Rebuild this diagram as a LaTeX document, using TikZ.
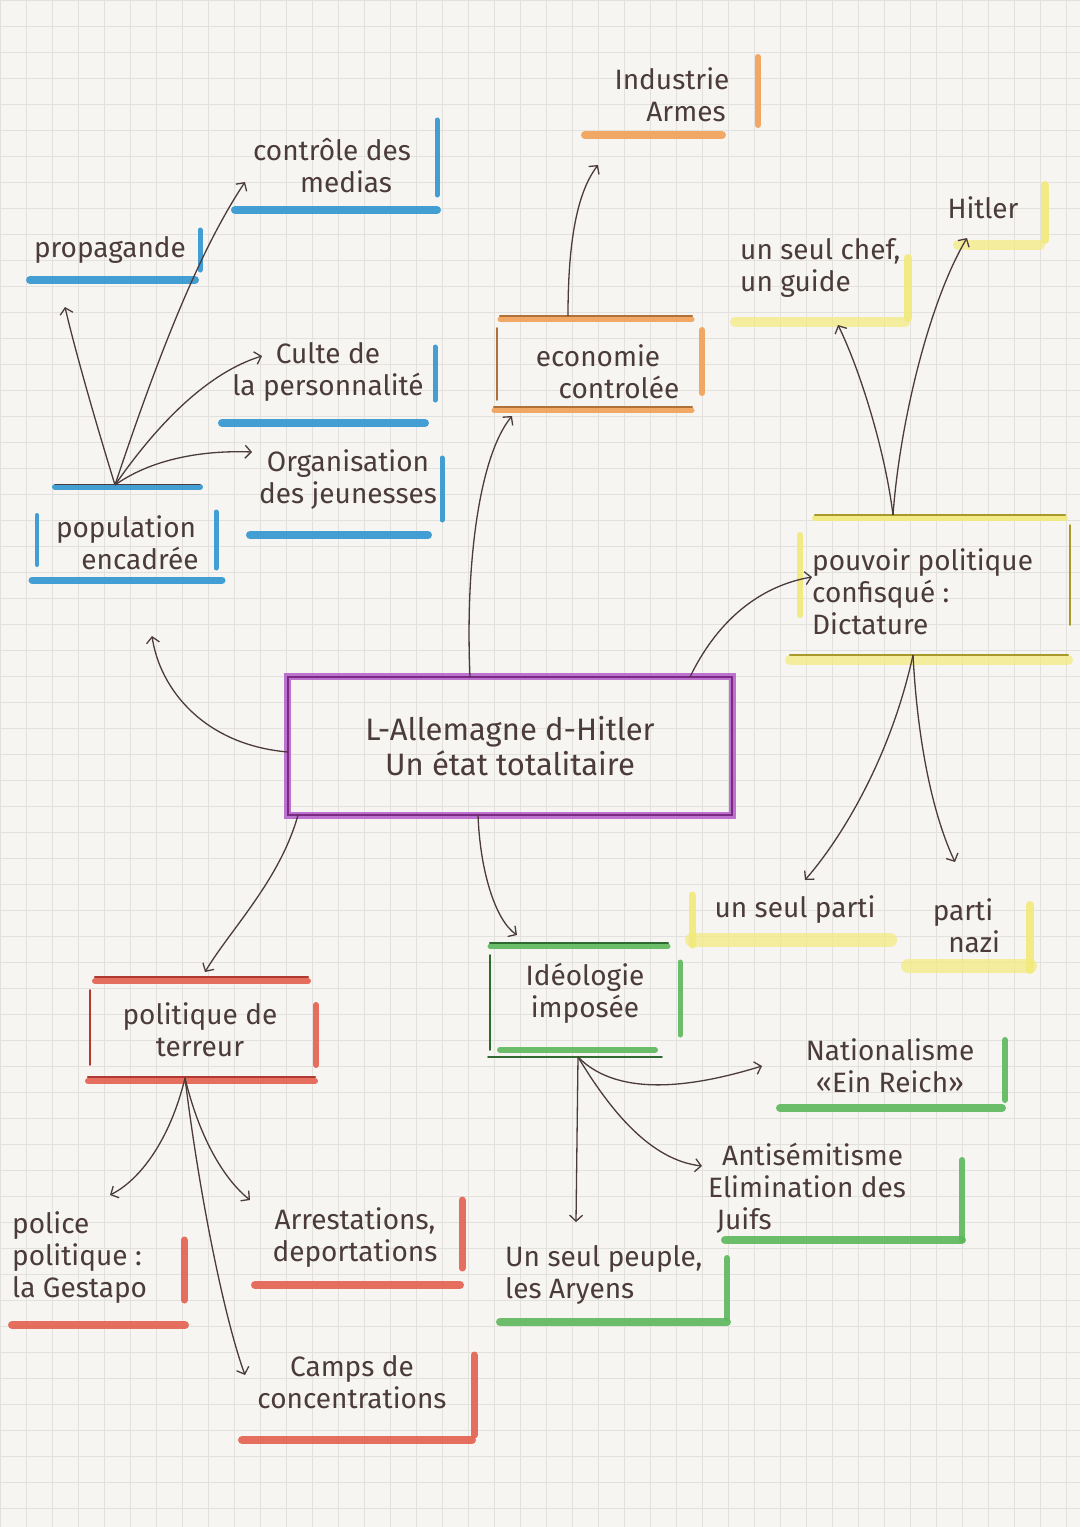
\documentclass[tikz,border=0pt]{standalone}
\usepackage{fontspec}
\setmainfont{Fira Sans}
\usetikzlibrary{arrows.meta}
\definecolor{ink}{HTML}{4B3B3A}
\definecolor{paper}{HTML}{F6F5F2}
\definecolor{gridc}{HTML}{E2E1DE}
\definecolor{mblue}{HTML}{2F95D0}
\definecolor{morange}{HTML}{F0A055}
\definecolor{dorange}{HTML}{B0703A}
\definecolor{myellow}{HTML}{F2EA7A}
\definecolor{olive}{HTML}{A89A2A}
\definecolor{mpurple}{HTML}{B45CCB}
\definecolor{dpurple}{HTML}{7A2A80}
\definecolor{mgreen}{HTML}{5CB85C}
\definecolor{dgreen}{HTML}{2F6A30}
\definecolor{mred}{HTML}{E5604F}
\definecolor{dred}{HTML}{B03A30}
\tikzset{
  txt/.style={text=ink, align=center, inner sep=0pt, font=\fontsize{28}{32}\selectfont},
  ltxt/.style={txt, align=left},
  hlmark/.style={line width=8pt, line cap=round, opacity=0.9},
  penline/.style={line width=2.2pt, line cap=round},
  arr/.style={draw=ink, line width=1.3pt, -{Straight Barb[length=6pt,width=13pt,line width=1.3pt]}},
  gridline/.style={gridc, line width=0.6pt}
}
\begin{document}
\begin{tikzpicture}[x=1pt,y=-1pt]
\useasboundingbox (0,0) rectangle (1080,1527);
\fill[paper] (0,0) rectangle (1080,1527);
\foreach \gx in {0,26,...,1080} {\draw[gridline] (\gx,0) -- (\gx,1527);}
\foreach \gy in {0,26,...,1527} {\draw[gridline] (0,\gy) -- (1080,\gy);}

% ---------- nodes ----------
\node[txt] (prop) at (110,250) {propagande};
\node[txt] (medias) at (332,166) {contrôle des\\\hspace*{1em}medias};
\node[txt] (culte) at (328,372) {Culte de\\la personnalité};
\node[txt] (orga) at (348,480) {Organisation\\des jeunesses};
\node[txt] (pop) at (126,543) {population\\\hspace*{1em}encadrée};
\node[txt] (indus) at (672,95) {Industrie\\\hspace*{1em}Armes};
\node[txt] (eco) at (598,372) {economie\\\hspace*{1.5em}controlée};
\node[ltxt, anchor=west] (chef) at (740,268) {un seul chef,\\un guide};
\node[txt] (hitler) at (983,208) {Hitler};
\node[ltxt, anchor=west] (pouvoir) at (812,592) {pouvoir politique\\confisqué :\\Dictature};
\node[txt, font=\fontsize{31}{35}\selectfont, minimum width=444pt, minimum height=138pt] (center) at (510,746) {L-Allemagne d-Hitler\\Un état totalitaire};
\node[txt] (parti1) at (795,910) {un seul parti};
\node[txt] (nazi) at (963,926) {parti\\\hspace*{0.8em}nazi};
\node[txt] (ideo) at (585,993) {Idéologie\\imposée};
\node[txt] (nation) at (890,1066) {Nationalisme\\«Ein Reich»};
\node[ltxt, anchor=west] (antisem) at (708,1188) {\hspace*{0.5em}Antisémitisme\\Elimination des\\\hspace*{0.3em}Juifs};
\node[ltxt, anchor=west] (peuple) at (505,1275) {Un seul peuple,\\les Aryens};
\node[txt] (terreur) at (200,1030) {politique de\\terreur};
\node[ltxt, anchor=west] (police) at (12,1258) {police\\politique :\\la Gestapo};
\node[txt] (arrest) at (355,1238) {Arrestations,\\deportations};
\node[txt] (camps) at (352,1382) {Camps de\\concentrations};

% ---------- highlighter marks ----------
% blue
\draw[hlmark, mblue] (30,280) -- (195,280);
\draw[hlmark, mblue, line width=5pt] (200,230) -- (200,270);
\draw[hlmark, mblue] (235,210) -- (437,210);
\draw[hlmark, mblue, line width=5pt] (437,120) -- (437,195);
\draw[hlmark, mblue] (222,423) -- (425,423);
\draw[hlmark, mblue, line width=5pt] (435,347) -- (435,400);
\draw[hlmark, mblue] (250,535) -- (428,535);
\draw[hlmark, mblue, line width=5pt] (442,458) -- (442,520);
\draw[hlmark, mblue, line width=6pt] (55,487) -- (200,487);
\draw[hlmark, mblue, line width=4pt] (37,515) -- (37,565);
\draw[hlmark, mblue, line width=5pt] (216,512) -- (216,568);
\draw[hlmark, mblue, line width=7pt] (32,580) -- (222,580);
\draw[penline, ink, line width=1pt] (55,484) -- (200,484);
% orange
\draw[hlmark, morange] (585,135) -- (722,135);
\draw[hlmark, morange, line width=6pt] (758,57) -- (758,125);
\draw[hlmark, morange, line width=5pt] (500,319) -- (692,319);
\draw[penline, dorange] (500,316) -- (692,316);
\draw[penline, dorange, line width=1.8pt] (497,328) -- (497,400);
\draw[hlmark, morange, line width=6pt] (702,330) -- (702,393);
\draw[hlmark, morange, line width=5pt] (494,410) -- (692,410);
\draw[penline, dorange] (494,407) -- (692,407);
% yellow
\draw[hlmark, myellow, line width=10pt, opacity=0.7] (735,322) -- (905,322);
\draw[hlmark, myellow, line width=8pt] (908,258) -- (908,318);
\draw[hlmark, myellow, line width=10pt, opacity=0.7] (958,245) -- (1040,245);
\draw[hlmark, myellow, line width=8pt] (1045,185) -- (1045,240);
\draw[hlmark, myellow, line width=6pt] (815,518) -- (1065,518);
\draw[penline, olive] (815,515) -- (1065,515);
\draw[hlmark, myellow, line width=6pt] (800,535) -- (800,615);
\draw[penline, olive, line width=1.6pt] (1070,525) -- (1070,625);
\draw[hlmark, myellow, line width=10pt, opacity=0.7] (790,660) -- (1068,660);
\draw[penline, olive] (790,655) -- (1068,655);
\draw[hlmark, myellow, line width=14pt, opacity=0.7] (692,940) -- (890,940);
\draw[hlmark, myellow, line width=7pt] (692,895) -- (692,945);
\draw[hlmark, myellow, line width=14pt, opacity=0.7] (908,966) -- (1030,966);
\draw[hlmark, myellow, line width=8pt] (1030,905) -- (1030,970);
% purple central box
\draw[mpurple, line width=7pt, opacity=0.85] (center.north west) rectangle (center.south east);
\draw[dpurple, line width=1.6pt] (center.north west) rectangle (center.south east);
% green
\draw[hlmark, mgreen, line width=5pt] (490,946) -- (668,946);
\draw[penline, dgreen] (490,943) -- (668,943);
\draw[penline, dgreen, line width=1.6pt] (490,955) -- (490,1050);
\draw[hlmark, mgreen, line width=5pt] (680,962) -- (680,1035);
\draw[hlmark, mgreen, line width=6pt] (500,1050) -- (655,1050);
\draw[penline, dgreen, line width=1.8pt] (488,1057) -- (662,1057);
\draw[hlmark, mgreen] (780,1108) -- (1002,1108);
\draw[hlmark, mgreen, line width=6pt] (1005,1040) -- (1005,1100);
\draw[hlmark, mgreen] (725,1240) -- (962,1240);
\draw[hlmark, mgreen, line width=6pt] (962,1160) -- (962,1240);
\draw[hlmark, mgreen] (500,1322) -- (727,1322);
\draw[hlmark, mgreen, line width=6pt] (727,1258) -- (727,1318);
% red
\draw[hlmark, mred, line width=6pt] (95,981) -- (308,981);
\draw[penline, dred] (95,977) -- (308,977);
\draw[penline, dred, line width=1.6pt] (90,990) -- (90,1065);
\draw[hlmark, mred, line width=6pt] (316,1005) -- (316,1065);
\draw[hlmark, mred, line width=6pt] (88,1081) -- (315,1081);
\draw[penline, dred] (88,1077) -- (315,1077);
\draw[hlmark, mred] (12,1325) -- (185,1325);
\draw[hlmark, mred, line width=7pt] (184,1240) -- (184,1300);
\draw[hlmark, mred] (255,1285) -- (460,1285);
\draw[hlmark, mred, line width=7pt] (462,1200) -- (462,1268);
\draw[hlmark, mred] (242,1440) -- (472,1440);
\draw[hlmark, mred, line width=7pt] (474,1355) -- (474,1435);

% ---------- connector end points ----------
\coordinate (pophub) at (115,485);
\coordinate (propin) at (65,307);
\coordinate (medin) at (245,182);
\coordinate (culin) at (262,356);
\coordinate (orgin) at (252,452);
\coordinate (popin) at (152,636);
\coordinate (cw) at (288,752);
\coordinate (ctop1) at (470,677);
\coordinate (ecoin) at (512,416);
\coordinate (ecotop) at (568,316);
\coordinate (indin) at (598,165);
\coordinate (ctop2) at (690,677);
\coordinate (pouvin) at (812,577);
\coordinate (pouvtop) at (893,515);
\coordinate (chefin) at (838,325);
\coordinate (hitin) at (967,238);
\coordinate (pouvbot) at (913,655);
\coordinate (partin) at (805,880);
\coordinate (nazin) at (955,862);
\coordinate (cbot1) at (478,815);
\coordinate (ideoin) at (517,935);
\coordinate (cbot2) at (298,815);
\coordinate (terrin) at (205,972);
\coordinate (terrhub) at (185,1078);
\coordinate (polin) at (110,1195);
\coordinate (arrin) at (250,1200);
\coordinate (campin) at (245,1375);
\coordinate (ideohub) at (578,1057);
\coordinate (natin) at (762,1066);
\coordinate (antin) at (702,1166);
\coordinate (peuin) at (576,1222);

% ---------- connectors ----------
\draw[arr] (pophub) .. controls (95,420) and (75,350) .. (propin);
\draw[arr] (pophub) .. controls (160,350) and (200,250) .. (medin);
\draw[arr] (pophub) .. controls (160,420) and (210,372) .. (culin);
\draw[arr] (pophub) .. controls (150,460) and (200,450) .. (orgin);
\draw[arr] (cw) .. controls (205,745) and (160,690) .. (popin);
\draw[arr] (ctop1) .. controls (465,560) and (480,455) .. (ecoin);
\draw[arr] (ecotop) .. controls (568,250) and (575,195) .. (indin);
\draw[arr] (ctop2) .. controls (720,615) and (765,585) .. (pouvin);
\draw[arr] (pouvtop) .. controls (885,450) and (860,370) .. (chefin);
\draw[arr] (pouvtop) .. controls (900,420) and (930,300) .. (hitin);
\draw[arr] (pouvbot) .. controls (890,760) and (840,840) .. (partin);
\draw[arr] (pouvbot) .. controls (918,750) and (935,820) .. (nazin);
\draw[arr] (cbot1) .. controls (480,870) and (495,920) .. (ideoin);
\draw[arr] (cbot2) .. controls (280,880) and (230,930) .. (terrin);
\draw[arr] (terrhub) .. controls (170,1140) and (140,1180) .. (polin);
\draw[arr] (terrhub) .. controls (200,1140) and (225,1180) .. (arrin);
\draw[arr] (terrhub) .. controls (200,1200) and (225,1320) .. (campin);
\draw[arr] (ideohub) .. controls (620,1100) and (700,1085) .. (natin);
\draw[arr] (ideohub) .. controls (610,1110) and (650,1160) .. (antin);
\draw[arr] (ideohub) -- (peuin);
\end{tikzpicture}
\end{document}
